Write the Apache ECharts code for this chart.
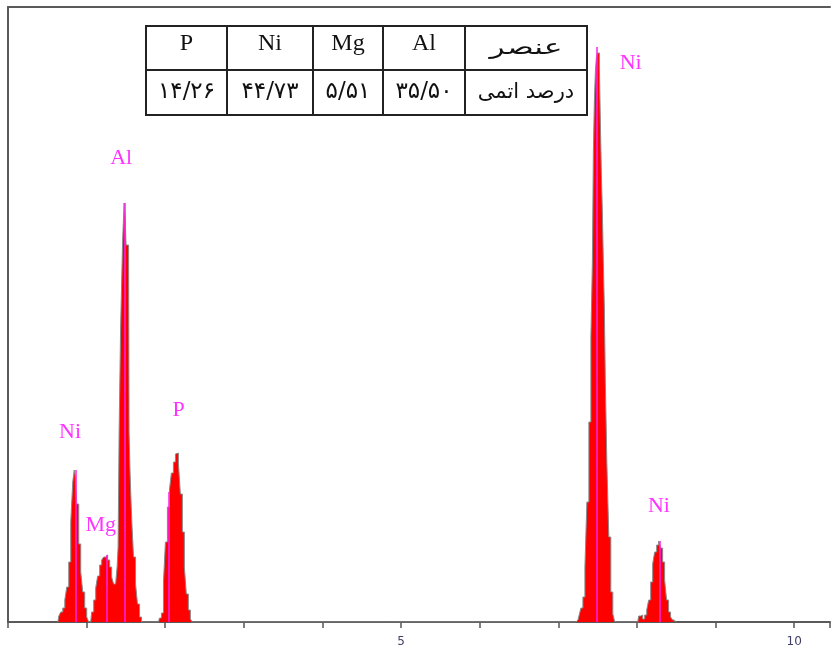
<!DOCTYPE html>
<html>
<head>
<meta charset="utf-8">
<script src="https://cdn.jsdelivr.net/npm/echarts@6/dist/echarts.min.js"></script>
<style>html,body{margin:0;padding:0;background:#fff}#c{width:833px;height:650px}</style>
</head>
<body>
<div id="c"></div>
<script>
// Spectrum segments: energy (keV) and counts
const niLEnergy = [0.634,0.659,0.684,0.710,0.735,0.760,0.786,0.811,0.836,0.849,0.862,0.887,0.913,0.938,0.963,0.989,1.014,1.039];
const niLCounts = [0,6,10,14,22,35,60,100,140,152,146,118,78,50,30,14,5,0];
const mgAlEnergy = [1.052,1.077,1.103,1.128,1.153,1.179,1.204,1.229,1.255,1.280,1.306,1.331,1.356,1.382,1.394,1.407,1.420,1.445,1.470,1.483,1.496,1.508,1.534,1.546,1.559,1.572,1.584,1.610,1.635,1.660,1.686,1.711];
const mgAlCounts = [0,10,22,34,46,57,62,65,67,62,55,45,38,40,55,75,190,295,380,419,405,377,377,190,150,120,95,65,38,18,5,0];
const pEnergy = [1.914,1.939,1.965,1.990,2.015,2.041,2.066,2.091,2.117,2.142,2.155,2.180,2.205,2.231,2.256,2.281,2.307,2.332,2.357];
const pCounts = [0,4,9,40,80,115,132,149,160,168,169,159,128,90,55,28,12,3,0];
const niKaEnergy = [7.224,7.250,7.275,7.300,7.326,7.351,7.376,7.402,7.427,7.440,7.452,7.465,7.478,7.491,7.503,7.516,7.529,7.541,7.554,7.567,7.579,7.592,7.605,7.630,7.655,7.681,7.706,7.731];
const niKaCounts = [0,2,6,14,25,55,120,200,285,360,470,520,550,565,569,569,555,500,450,410,360,315,240,160,85,30,8,0];
const niKbEnergy = [8.010,8.035,8.061,8.086,8.112,8.137,8.162,8.188,8.213,8.238,8.264,8.289,8.314,8.340,8.365,8.390,8.416,8.441,8.466,8.492];
const niKbCounts = [0,6,7,3,7,12,22,40,58,70,77,81,74,60,42,22,10,5,2,0];

// Element marker lines (keV, height)
const markerEnergy = [0.862,1.255,1.483,2.041,7.491,8.289];
const markerHeight = [152,67,419,130,575,81];

// Peak labels
const labelNames = ['Ni','Mg','Al','P','Ni','Ni'];
const labelEnergy = [0.79,1.18,1.44,2.17,7.92,8.28];
const labelCounts = [190,97,464,212,559,116];

// Table
const tableHeader = ['P','Ni','Mg','Al','عنصر'];
const tableRow = ['۱۴/۲۶','۴۴/۷۳','۵/۵۱','۳۵/۵۰','درصد اتمی'];

// Axis
const xMin = 0, xMax = 10.456, xInterval = 1;
const xLabelValues = [5, 10];
const yMax = 615;

function segs(){
  const out = [];
  const groups = [[niLEnergy,niLCounts],[mgAlEnergy,mgAlCounts],[pEnergy,pCounts],[niKaEnergy,niKaCounts],[niKbEnergy,niKbCounts]];
  groups.forEach(([e,c]) => e.forEach((v,i)=>out.push([v,c[i]])));
  return out;
}

const chart = echarts.init(document.getElementById('c'), null, {renderer:'canvas'});

// table graphic
const colX = [146,227,313,383,465,587];
const rowY = [26,70,115];
const tableEls = [];
const serif = '"Times New Roman","Liberation Serif","DejaVu Sans",serif';
const arab = '"DejaVu Sans",sans-serif';
[tableHeader, tableRow].forEach((row, r) => {
  row.forEach((txt, i) => {
    tableEls.push({
      type:'rect',
      shape:{x:colX[i], y:rowY[r], width:colX[i+1]-colX[i], height:rowY[r+1]-rowY[r]},
      style:{fill:'#fff', stroke:'#222', lineWidth:2}
    });
    const cx = (colX[i]+colX[i+1])/2;
    let font, y, sx = 1;
    if (r === 0 && i < 4) { font = '24px ' + serif; y = 44; }
    else if (r === 0) { font = '21px ' + arab; y = 49; sx = 1.5; }
    else if (i < 4) { font = '23px ' + arab; y = 92; }
    else { font = '21px ' + arab; y = 93; sx = 1.0; }
    tableEls.push({
      type:'text', x:cx, y:y, scaleX:sx,
      style:{text:txt, fill:'#111', font:font, align:'center', verticalAlign:'middle'}
    });
  });
});

const markLineData = markerEnergy.map((e,i)=>[{coord:[e,0]},{coord:[e,markerHeight[i]]}]);

chart.setOption({
  animation:false,
  backgroundColor:'#fff',
  grid:{left:8, right:0, top:7, bottom:28, containLabel:false},
  xAxis:[{
    type:'value', min:xMin, max:xMax, interval:xInterval, position:'bottom',
    axisLine:{show:true, lineStyle:{color:'#5a5a5a', width:2}},
    axisTick:{show:true, length:6, lineStyle:{color:'#555', width:1.5}},
    axisLabel:{show:true, margin:14, fontSize:12, color:'#3f3f66', fontFamily:'DejaVu Sans, sans-serif',
      formatter:(v)=> (Math.abs(v-Math.round(v))<1e-6 && xLabelValues.indexOf(Math.round(v))>=0) ? String(Math.round(v)) : ''},
    splitLine:{show:false}
  },{
    type:'value', min:xMin, max:xMax, position:'top',
    axisLine:{show:true, onZero:false, lineStyle:{color:'#5a5a5a', width:2}},
    axisTick:{show:false}, axisLabel:{show:false}, splitLine:{show:false}
  }],
  yAxis:{
    type:'value', min:0, max:yMax,
    axisLine:{show:true, lineStyle:{color:'#5a5a5a', width:2}},
    axisTick:{show:false}, axisLabel:{show:false}, splitLine:{show:false}
  },
  series:[{
    type:'line', data:segs(), step:'middle', symbol:'none',
    lineStyle:{color:'#8a8a8a', width:1},
    areaStyle:{color:'#ff0000', opacity:1},
    markLine:{silent:true, symbol:['none','none'], label:{show:false},
      lineStyle:{color:'#ff22ee', width:1.5, type:'solid'}, data:markLineData},
    z:2
  },{
    type:'scatter', symbolSize:0,
    data: labelNames.map((n,i)=>({name:n, value:[labelEnergy[i], labelCounts[i]]})),
    label:{show:true, position:'inside', formatter:'{b}', color:'#ff00ff', fontSize:22, fontFamily:serif},
    z:5
  }],
  graphic:{elements:[{type:'group', children:tableEls, z:10}]}
});
</script>
</body>
</html>
